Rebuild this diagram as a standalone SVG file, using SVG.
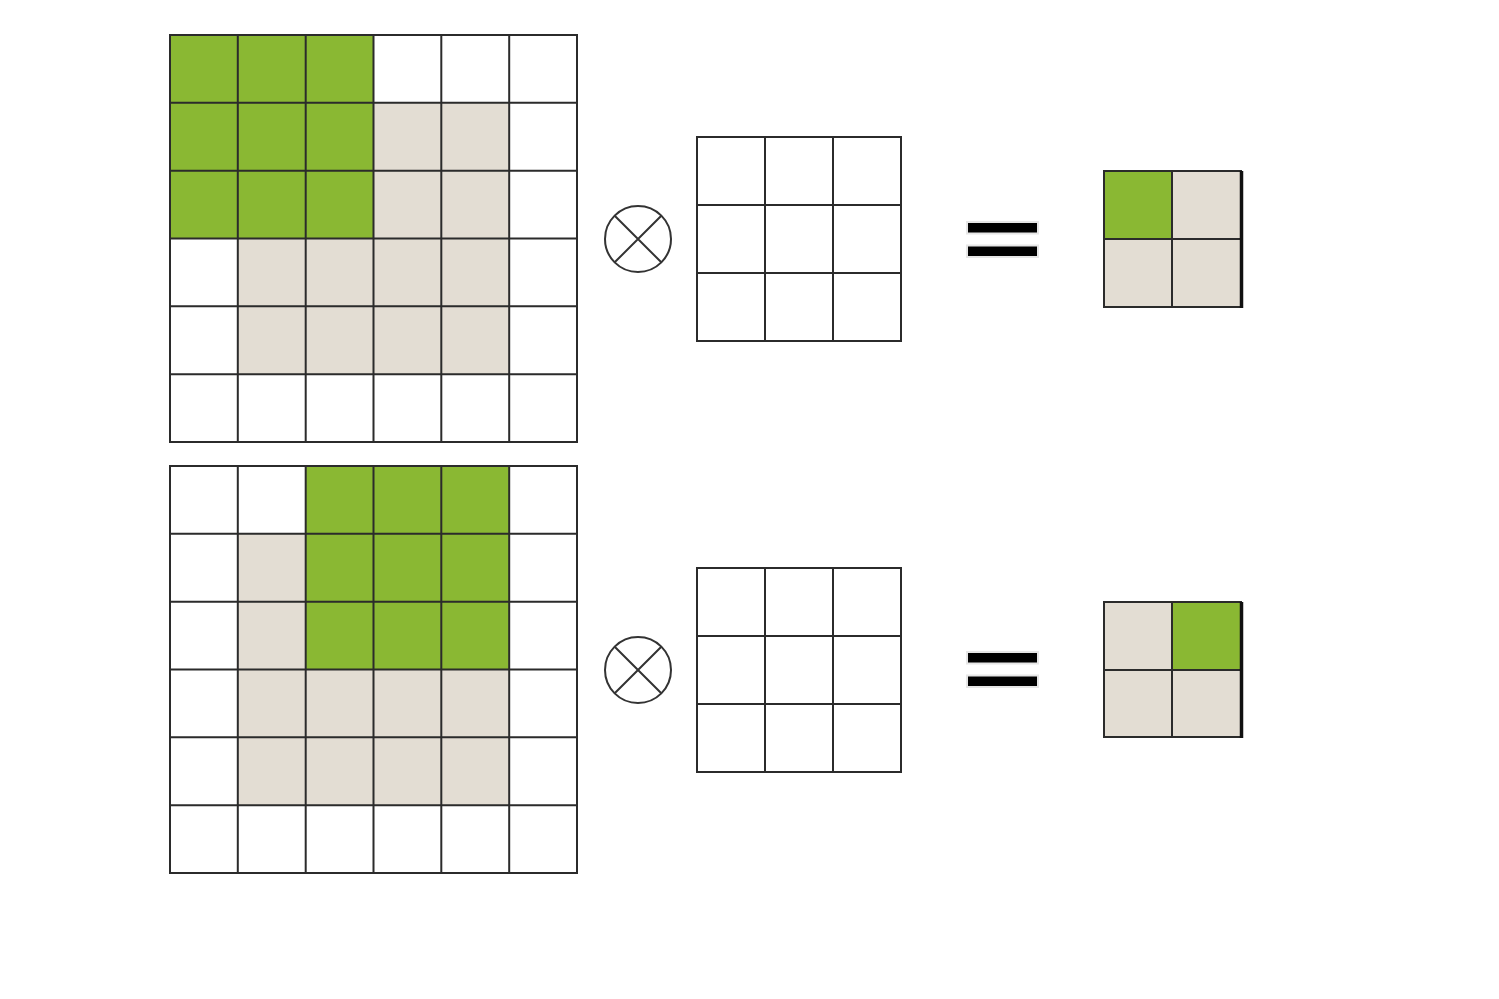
<svg xmlns="http://www.w3.org/2000/svg" width="1499" height="999" viewBox="0 0 1499 999">
<style>
.g{fill:#8ab833}
.b{fill:#e3ddd3}
.ln{stroke:#2b2b2b;stroke-width:2;fill:none}
.op{stroke:#333;stroke-width:2;fill:none}
.eq{fill:#000;stroke:#e6e6e6;stroke-width:2}
</style>
<defs>
<g id="grid6">
<path class="ln" d="M0,0H407V407H0Z M67.8,0V407 M135.7,0V407 M203.5,0V407 M271.3,0V407 M339.2,0V407 M0,67.8H407 M0,135.7H407 M0,203.5H407 M0,271.3H407 M0,339.2H407"/>
</g>
<g id="grid3">
<path class="ln" d="M0,0H204V204H0Z M68,0V204 M136,0V204 M0,68H204 M0,136H204"/>
</g>
<g id="otimes">
<circle class="op" cx="0" cy="0" r="33"/>
<path class="op" d="M-23.3,-23.3L23.3,23.3M23.3,-23.3L-23.3,23.3"/>
</g>
<g id="equals">
<rect class="eq" x="0" y="0" width="71" height="11.5"/>
<rect class="eq" x="0" y="23.5" width="71" height="11.5"/>
</g>
</defs>
<rect width="1499" height="999" fill="#fff"/>

<g id="input-top" transform="translate(170,35)">
<rect class="g" x="0" y="0" width="203.5" height="203.5"/>
<rect class="b" x="203.5" y="67.8" width="135.7" height="135.7"/>
<rect class="b" x="67.8" y="203.5" width="271.4" height="135.7"/>
<use href="#grid6"/>
</g>

<g id="input-bottom" transform="translate(170,466)">
<rect class="g" x="135.7" y="0" width="203.5" height="203.5"/>
<rect class="b" x="67.8" y="67.8" width="67.9" height="135.7"/>
<rect class="b" x="67.8" y="203.5" width="271.4" height="135.7"/>
<use href="#grid6"/>
</g>

<g id="otimes-top" transform="translate(638,239)"><use href="#otimes"/></g>
<g id="otimes-bottom" transform="translate(638,670)"><use href="#otimes"/></g>

<g id="kernel-top" transform="translate(697,137)"><use href="#grid3"/></g>
<g id="kernel-bottom" transform="translate(697,568)"><use href="#grid3"/></g>

<g id="equals-top" transform="translate(967,222)"><use href="#equals"/></g>
<g id="equals-bottom" transform="translate(967,652)"><use href="#equals"/></g>

<g id="output-top" transform="translate(1104,171)">
<rect class="b" x="0" y="0" width="137" height="136"/>
<rect class="g" x="0" y="0" width="68" height="68"/>
<path class="ln" d="M0,0H137V136H0Z M68,0V136 M0,68H137"/>
<path d="M137.5,0V137" stroke="#111" stroke-width="3.5"/>
</g>

<g id="output-bottom" transform="translate(1104,602)">
<rect class="b" x="0" y="0" width="137" height="135"/>
<rect class="g" x="68" y="0" width="69" height="68"/>
<path class="ln" d="M0,0H137V135H0Z M68,0V135 M0,68H137"/>
<path d="M137.5,0V136" stroke="#111" stroke-width="3.5"/>
</g>

<g id="connectors"></g>
</svg>
